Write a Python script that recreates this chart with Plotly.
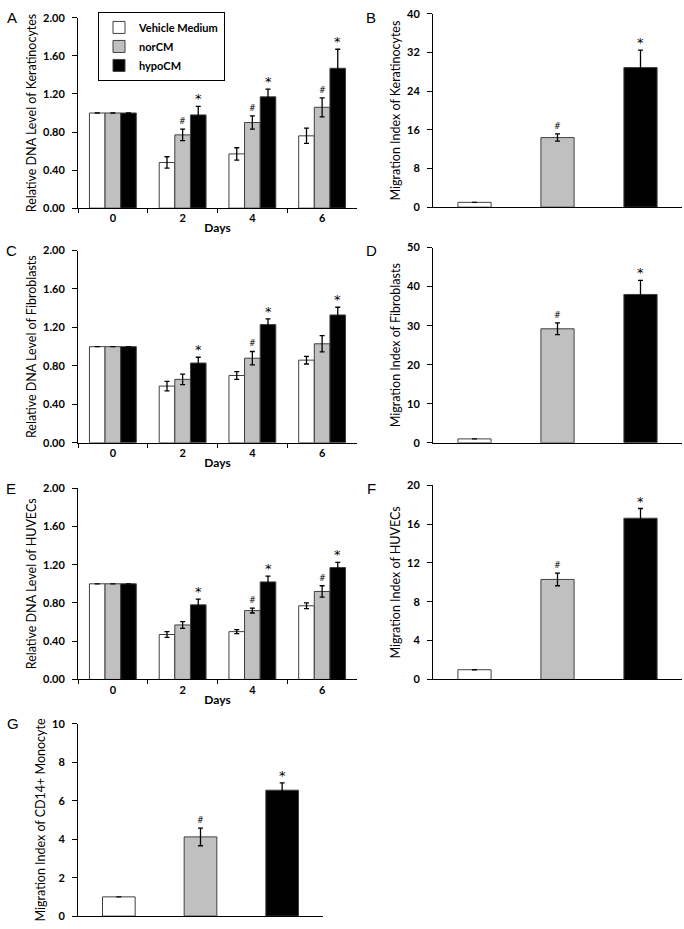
import plotly.graph_objects as go

W, H = 684, 929

groups = ["Vehicle Medium", "norCM", "hypoCM"]
colors = ["#ffffff", "#c0c0c0", "#000000"]
days = ["0", "2", "4", "6"]

# Panel A - keratinocytes DNA
A_veh = [1.00, 0.48, 0.57, 0.76]
A_veh_err = [0, 0.06, 0.065, 0.08]
A_nor = [1.00, 0.77, 0.90, 1.06]
A_nor_err = [0, 0.06, 0.07, 0.10]
A_hyp = [1.00, 0.98, 1.17, 1.47]
A_hyp_err = [0, 0.09, 0.08, 0.20]
A_nor_marks = ["", "#", "#", "#"]
A_hyp_marks = ["", "*", "*", "*"]

# Panel C - fibroblasts DNA
C_veh = [1.00, 0.59, 0.70, 0.86]
C_veh_err = [0, 0.05, 0.04, 0.04]
C_nor = [1.00, 0.66, 0.88, 1.03]
C_nor_err = [0, 0.055, 0.07, 0.085]
C_hyp = [1.00, 0.83, 1.23, 1.33]
C_hyp_err = [0, 0.06, 0.06, 0.08]
C_nor_marks = ["", "", "#", ""]
C_hyp_marks = ["", "*", "*", "*"]

# Panel E - HUVECs DNA
E_veh = [1.00, 0.47, 0.50, 0.77]
E_veh_err = [0, 0.03, 0.02, 0.03]
E_nor = [1.00, 0.57, 0.72, 0.92]
E_nor_err = [0, 0.035, 0.025, 0.06]
E_hyp = [1.00, 0.78, 1.02, 1.17]
E_hyp_err = [0, 0.06, 0.06, 0.055]
E_nor_marks = ["", "", "#", "#"]
E_hyp_marks = ["", "*", "*", "*"]

# Migration panels
B_vals = [1.0, 14.4, 28.9]
B_err = [0, 0.75, 3.6]
D_vals = [1.0, 29.2, 38.0]
D_err = [0, 1.5, 3.6]
F_vals = [1.0, 10.3, 16.6]
F_err = [0, 0.65, 1.0]
G_vals = [1.0, 4.12, 6.55]
G_err = [0, 0.46, 0.38]
mig_marks = ["", "#", "*"]

def xd(a, b):
    return [a / W, b / W]

def yd(top, bottom):
    return [1 - bottom / H, 1 - top / H]

FONT = "Lato"
OUT = "#404040"

fig = go.Figure()
layout = dict(
    width=W, height=H, margin=dict(l=0, r=0, t=0, b=0),
    paper_bgcolor="white", plot_bgcolor="white",
    barmode="overlay", font=dict(family=FONT, color="black", size=10),
    showlegend=True,
    legend=dict(x=98 / W, y=1 - 5 / H, xanchor="left", yanchor="top",
                bordercolor="black", borderwidth=1, bgcolor="white",
                font=dict(family=FONT, size=11, weight="bold"),
                itemwidth=30, tracegroupgap=0),
)
annotations = []

def yaxis_cfg(dom, anchor, rng, dtick, fmt, title):
    return dict(domain=dom, anchor=anchor, range=rng, dtick=dtick, tickformat=fmt,
                showline=True, linecolor="black", linewidth=1, ticks="outside",
                ticklen=5, tickcolor="black", showgrid=False, zeroline=False,
                ticklabelstandoff=5,
                tickfont=dict(family=FONT, size=11, weight="bold"),
                title=dict(text=title, standoff=3, font=dict(family=FONT, size=12.5)))

def dna_panel(idx, xdom, ydom, series, errs, nor_marks, hyp_marks, title, legend):
    xa = "x" if idx == 1 else f"x{idx}"
    ya = "y" if idx == 1 else f"y{idx}"
    w = 0.224
    offs = [-1.5 * w, -0.5 * w, 0.5 * w]
    for g, (vals, err, col, off) in enumerate(zip(series, errs, colors, offs)):
        fig.add_trace(go.Bar(
            x=days, y=vals, name=groups[g], width=w, offset=off,
            marker=dict(color=col, line=dict(color=OUT, width=1)),
            error_y=dict(type="data", array=err, color="black", thickness=1.3, width=2.5),
            xaxis=xa, yaxis=ya, showlegend=legend))
    for g, marks, fs in [(1, nor_marks, 8), (2, hyp_marks, 13)]:
        for i, m in enumerate(marks):
            if m:
                annotations.append(dict(
                    x=i + offs[g] + w / 2, y=series[g][i] + errs[g][i], xref=xa, yref=ya,
                    text=m, showarrow=False, yanchor="bottom", yshift=-2 if m == "*" else 1,
                    font=dict(family="DejaVu Sans", size=fs, color="black")))
    layout["xaxis" if idx == 1 else f"xaxis{idx}"] = dict(
        domain=xdom, anchor=ya, type="category", tickson="boundaries",
        showline=True, linecolor="black", linewidth=1, ticks="outside", ticklen=4,
        tickcolor="black", showgrid=False, range=[-0.5, 3.5],
        tickfont=dict(family=FONT, size=11, weight="bold"),
        title=dict(text="Days", standoff=0, font=dict(family=FONT, size=12, weight="bold")))
    layout["yaxis" if idx == 1 else f"yaxis{idx}"] = yaxis_cfg(
        ydom, xa, [0, 2.0], 0.4, ".2f", title)

def mig_panel(idx, xdom, ydom, vals, err, rmax, dtick, title):
    xa = f"x{idx}"
    ya = f"y{idx}"
    cats = ["a", "b", "c"]
    fig.add_trace(go.Bar(
        x=cats, y=vals, width=0.4, showlegend=False,
        marker=dict(color=colors, line=dict(color=OUT, width=1)),
        error_y=dict(type="data", array=err, color="black", thickness=1.3, width=2.5),
        xaxis=xa, yaxis=ya))
    for i, m in enumerate(mig_marks):
        if m:
            annotations.append(dict(
                x=i, y=vals[i] + err[i], xref=xa, yref=ya, text=m, showarrow=False,
                yanchor="bottom", yshift=-2 if m == "*" else 1,
                font=dict(family="DejaVu Sans", size=8 if m == "#" else 13, color="black")))
    layout[f"xaxis{idx}"] = dict(
        domain=xdom, anchor=ya, type="category", showline=True, linecolor="black",
        linewidth=1, ticks="", showticklabels=False, showgrid=False, range=[-0.5, 2.5])
    layout[f"yaxis{idx}"] = yaxis_cfg(ydom, xa, [0, rmax], dtick, "d", title)

dna_panel(1, xd(78, 357), yd(11, 204), [A_veh, A_nor, A_hyp], [A_veh_err, A_nor_err, A_hyp_err],
          A_nor_marks, A_hyp_marks, "Relative DNA Level of Keratinocytes", True)
mig_panel(2, xd(433, 682), yd(7, 203), B_vals, B_err, 40, 8, "Migration Index of Keratinocytes")
dna_panel(3, xd(78, 357), yd(247, 442), [C_veh, C_nor, C_hyp], [C_veh_err, C_nor_err, C_hyp_err],
          C_nor_marks, C_hyp_marks, "Relative DNA Level of Fibroblasts", False)
mig_panel(4, xd(433, 682), yd(244, 442), D_vals, D_err, 50, 10, "Migration Index of Fibroblasts")
dna_panel(5, xd(78, 357), yd(488, 682), [E_veh, E_nor, E_hyp], [E_veh_err, E_nor_err, E_hyp_err],
          E_nor_marks, E_hyp_marks, "Relative DNA Level of HUVECs", False)
mig_panel(6, xd(433, 682), yd(485, 682), F_vals, F_err, 20, 4, "Migration Index of HUVECs")
mig_panel(7, xd(78, 323), yd(727, 922), G_vals, G_err, 10, 2, "Migration Index of CD14+ Monocyte")

letters = [("A", 12, 11), ("B", 371, 11), ("C", 11, 247), ("D", 371, 247),
           ("E", 11, 488), ("F", 371, 488), ("G", 13, 727)]
for t, px, py in letters:
    annotations.append(dict(x=px / W, y=1 - py / H, xref="paper", yref="paper", text=t,
                            showarrow=False, xanchor="center", yanchor="middle",
                            font=dict(family="Liberation Sans", size=15, color="black")))

layout["annotations"] = annotations
fig.update_layout(**layout)
fig.write_html("out.html", config={"displayModeBar": False},
               post_script="document.body.style.margin='0px';")
